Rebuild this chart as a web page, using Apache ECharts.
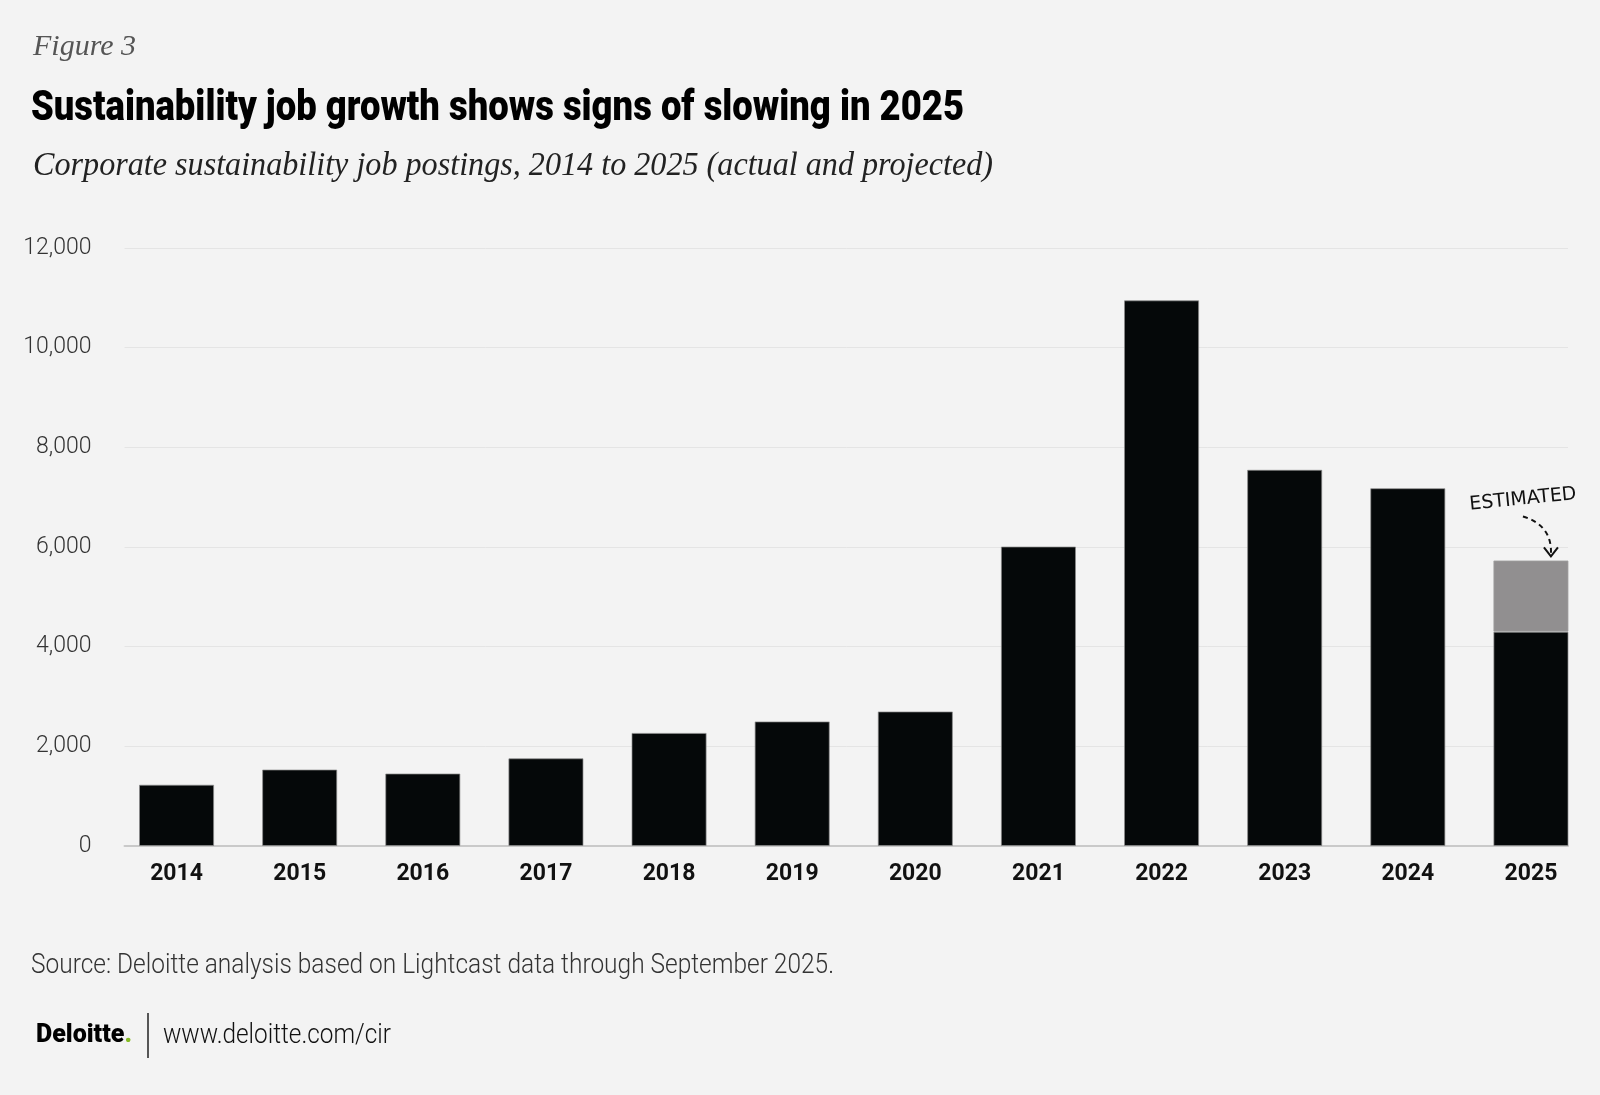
<!DOCTYPE html>
<html>
<head>
<meta charset="utf-8">
<script src="https://cdn.jsdelivr.net/npm/echarts@6/dist/echarts.min.js"></script>
<style>
html,body{margin:0;padding:0;background:#f3f3f3;}
#chart{width:1600px;height:1095px;}
</style>
</head>
<body>
<div id="chart"></div>
<script>
// ---- data ----
const years = ['2014','2015','2016','2017','2018','2019','2020','2021','2022','2023','2024','2025'];
const actual = [1230, 1535, 1455, 1760, 2270, 2500, 2700, 6010, 10950, 7550, 7180, 4300];
const estimated = [null, null, null, null, null, null, null, null, null, null, null, 1430];
const yTicks = [0, 2000, 4000, 6000, 8000, 10000, 12000];
const texts = {
  figure: 'Figure 3',
  title: 'Sustainability job growth shows signs of slowing in 2025',
  subtitle: 'Corporate sustainability job postings, 2014 to 2025 (actual and projected)',
  source: 'Source: Deloitte analysis based on Lightcast data through September 2025.',
  url: 'www.deloitte.com/cir',
  note: 'ESTIMATED'
};

const cv = document.createElement('canvas').getContext('2d');
function fitScale(text, font, width){ cv.font = font; return width / cv.measureText(text).width; }

const chart = echarts.init(document.getElementById('chart'), null, {renderer:'canvas'});

const figFont = 'italic 30px "Liberation Serif", serif';
const titleFont = '900 42px "Roboto", "DejaVu Sans", sans-serif';
const subFont = 'italic 33px "Liberation Serif", serif';
const srcFont = '300 27px "Roboto", sans-serif';
const urlFont = '300 28px "Roboto", sans-serif';

const option = {
  backgroundColor: '#f3f3f3',
  animation: false,
  grid: [
    {left: 115, right: 7.5, top: 248, bottom: 249},
    {left: 124.5, right: 32, top: 248, bottom: 249}
  ],
  xAxis: [
    {type: 'category', data: years, gridIndex: 0,
     axisLine: {show: false}, axisTick: {show: false},
     axisLabel: {color: '#111', fontFamily: 'Roboto', fontWeight: 'bold', fontSize: 23, margin: 17}},
    {type: 'value', gridIndex: 1, min: 0, max: 1,
     axisLine: {show: true, lineStyle: {color: '#c9c9c9', width: 2}},
     axisTick: {show: false}, axisLabel: {show: false}, splitLine: {show: false}}
  ],
  yAxis: [
    {type: 'value', gridIndex: 0, min: yTicks[0], max: yTicks[yTicks.length-1], interval: 2000, show: false},
    {type: 'value', gridIndex: 1, min: yTicks[0], max: yTicks[yTicks.length-1], interval: 2000,
     axisLine: {show: false}, axisTick: {show: false},
     axisLabel: {color: '#333', fontFamily: 'Roboto', fontWeight: 300, fontSize: 23, margin: 33,
       formatter: v => v.toLocaleString('en-US')},
     splitLine: {show: true, lineStyle: {color: '#e4e4e4', width: 1}}}
  ],
  series: [
    {type: 'bar', name: 'Actual', stack: 'a', xAxisIndex: 0, yAxisIndex: 0, data: actual,
     barCategoryGap: '39%',
     itemStyle: {color: '#050809', borderColor: 'rgba(140,140,140,0.7)', borderWidth: 1}},
    {type: 'bar', name: 'Estimated', stack: 'a', xAxisIndex: 0, yAxisIndex: 0, data: estimated,
     barCategoryGap: '39%',
     itemStyle: {color: '#918f90', borderColor: 'rgba(160,160,160,0.8)', borderWidth: 1}}
  ]
};
chart.setOption(option);

// annotation anchored to the 2025 bar top
const lastIdx = years.length - 1;
const topVal = actual[lastIdx] + estimated[lastIdx];
const p = chart.convertToPixel({xAxisIndex: 0, yAxisIndex: 0}, [years[lastIdx], topVal]);
const ax = p[0], ay = p[1];

const graphics = [
  {type: 'text', x: 33, y: 47, scaleX: fitScale(texts.figure, figFont, 103),
   style: {text: texts.figure, font: figFont, fill: '#555', textVerticalAlign: 'middle'}},
  {type: 'text', x: 31, y: 109, scaleX: fitScale(texts.title, titleFont, 933),
   style: {text: texts.title, font: titleFont, fill: '#000', textVerticalAlign: 'middle'}},
  {type: 'text', x: 33, y: 166, scaleX: fitScale(texts.subtitle, subFont, 960),
   style: {text: texts.subtitle, font: subFont, fill: '#222', textVerticalAlign: 'middle'}},
  {type: 'text', x: 31, y: 966, scaleX: fitScale(texts.source, srcFont, 803),
   style: {text: texts.source, font: srcFont, fill: '#333', textVerticalAlign: 'middle'}},
  {type: 'text', x: 36, y: 1036,
   style: {text: '{a|Deloitte}{g|.}', textVerticalAlign: 'middle',
     rich: {a: {font: '900 25px "Roboto", sans-serif', fill: '#000'}, g: {font: '900 25px "Roboto", sans-serif', fill: '#86bc25'}}}},
  {type: 'line', shape: {x1: 148, y1: 1013, x2: 148, y2: 1058}, style: {stroke: '#222', lineWidth: 1.5}},
  {type: 'text', x: 163, y: 1036, scaleX: fitScale(texts.url, urlFont, 228),
   style: {text: texts.url, font: urlFont, fill: '#111', textVerticalAlign: 'middle'}},
  {type: 'text', x: ax - 8, y: ay - 61, rotation: 0.1,
   style: {text: texts.note, font: '500 19px "DejaVu Sans", sans-serif', fill: '#111', align: 'center', verticalAlign: 'middle'}},
  {type: 'bezierCurve', shape: {x1: ax - 8, y1: ay - 44, cpx1: ax + 12, cpy1: ay - 38, cpx2: ax + 21, cpy2: ay - 25, x2: ax + 20, y2: ay - 6},
   style: {stroke: '#111', lineWidth: 2, lineDash: [5, 4], fill: null}},
  {type: 'polyline', shape: {points: [[ax + 13, ay - 13], [ax + 20, ay - 4], [ax + 27, ay - 13]]},
   style: {stroke: '#111', lineWidth: 2, fill: null}}
];
chart.setOption({graphic: graphics});
</script>
</body>
</html>
